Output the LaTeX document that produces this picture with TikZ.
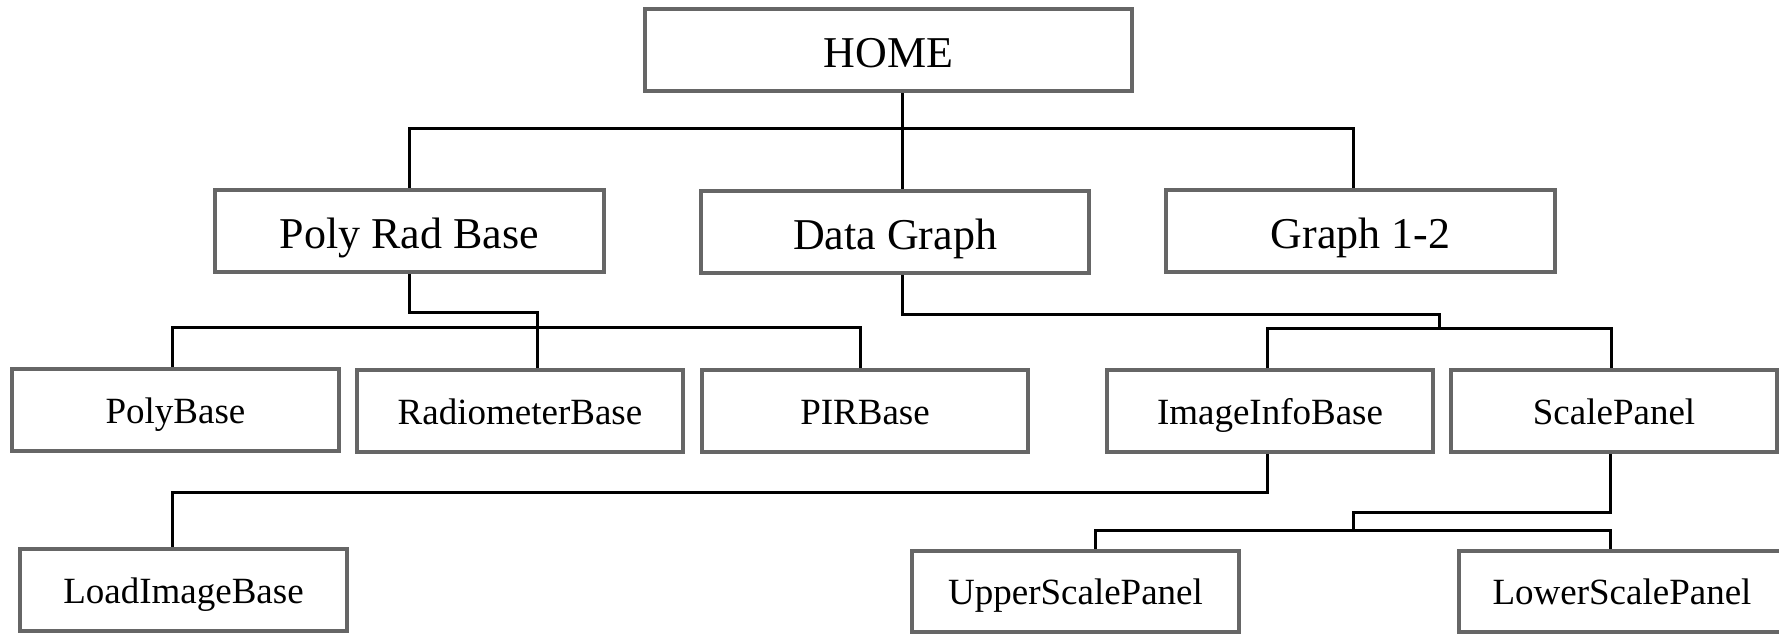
\documentclass[tikz,border=0pt]{standalone}
\usepackage{fontspec}
\setmainfont{Liberation Serif}
\begin{document}
\begin{tikzpicture}[x=1pt,y=-1pt,
  bigbox/.style={draw=black!60,line width=4pt,fill=white,inner sep=0pt,minimum height=82pt,
    font=\fontsize{44}{50}\selectfont,text height=36pt,text depth=2pt},
  smallbox/.style={draw=black!60,line width=4pt,fill=white,inner sep=0pt,minimum height=82pt,minimum width=326pt,
    font=\fontsize{37}{42}\selectfont,text height=29pt,text depth=3pt},
  conn/.style={draw=black,line width=3pt,line join=miter}]
\useasboundingbox (0,0) rectangle (1779,634);
\node[bigbox,minimum width=487pt] (home) at (888.5,50) {HOME};
\node[bigbox,minimum width=389pt] (prb) at (409.5,231) {Poly Rad Base};
\node[bigbox,minimum width=388pt] (dg) at (895,232) {Data Graph};
\node[bigbox,minimum width=389pt] (g12) at (1360.5,231) {Graph 1-2};
\node[smallbox,minimum width=327pt] (pb) at (175.5,410) {PolyBase};
\node[smallbox] (rb) at (520,411) {RadiometerBase};
\node[smallbox] (pir) at (865,411) {PIRBase};
\node[smallbox] (iib) at (1270,411) {ImageInfoBase};
\node[smallbox] (sp) at (1614,411) {ScalePanel};
\node[smallbox,minimum width=327pt] (lib) at (183.5,590) {LoadImageBase};
\node[smallbox,minimum width=327pt,minimum height=81pt] (usp) at (1075.5,591.5) {UpperScalePanel};
\node[smallbox,minimum height=81pt] (lsp) at (1622,591.5) {LowerScalePanel};
% anchor points of stems
\coordinate (dgt) at ([xshift=7pt]dg.north);
\coordinate (dgb) at ([xshift=7pt]dg.south);
\coordinate (g12t) at ([xshift=-7.5pt]g12.north);
\coordinate (pbt) at ([xshift=-3.5pt]pb.north);
\coordinate (rbt) at ([xshift=17pt]rb.north);
\coordinate (pirt) at ([xshift=-5pt]pir.north);
\coordinate (iit) at ([xshift=-3pt]iib.north);
\coordinate (iibt) at ([xshift=-3pt]iib.south);
\coordinate (spt) at ([xshift=-3pt]sp.north);
\coordinate (spb) at ([xshift=-4pt]sp.south);
\coordinate (libt) at ([xshift=-11.5pt]lib.north);
\coordinate (uspt) at ([xshift=19.5pt]usp.north);
\coordinate (lspt) at ([xshift=-12pt]lsp.north);
\coordinate (j1) at (1439,330);
\coordinate (j2) at (1353,532);
% level 1
\draw[conn] (home.south -| dgt) -- (dgt);
\draw[conn] (prb.north) -- ++(0,-60) -| (g12t);
% level 2
\draw[conn] (pbt) -- ++(0,-40) -| (pirt);
\draw[conn] (prb.south) -- ++(0,38) -| (rbt);
\draw[conn] (dgb) -- ++(0,39) -| (j1);
\draw[conn] (iit) -- ++(0,-40) -| (spt);
% level 3
\draw[conn] (iibt) -- ++(0,38) -| (libt);
\draw[conn] (spb) -- ++(0,58) -| (j2);
\draw[conn] (uspt) -- ++(0,-19) -| (lspt);
\end{tikzpicture}
\end{document}
